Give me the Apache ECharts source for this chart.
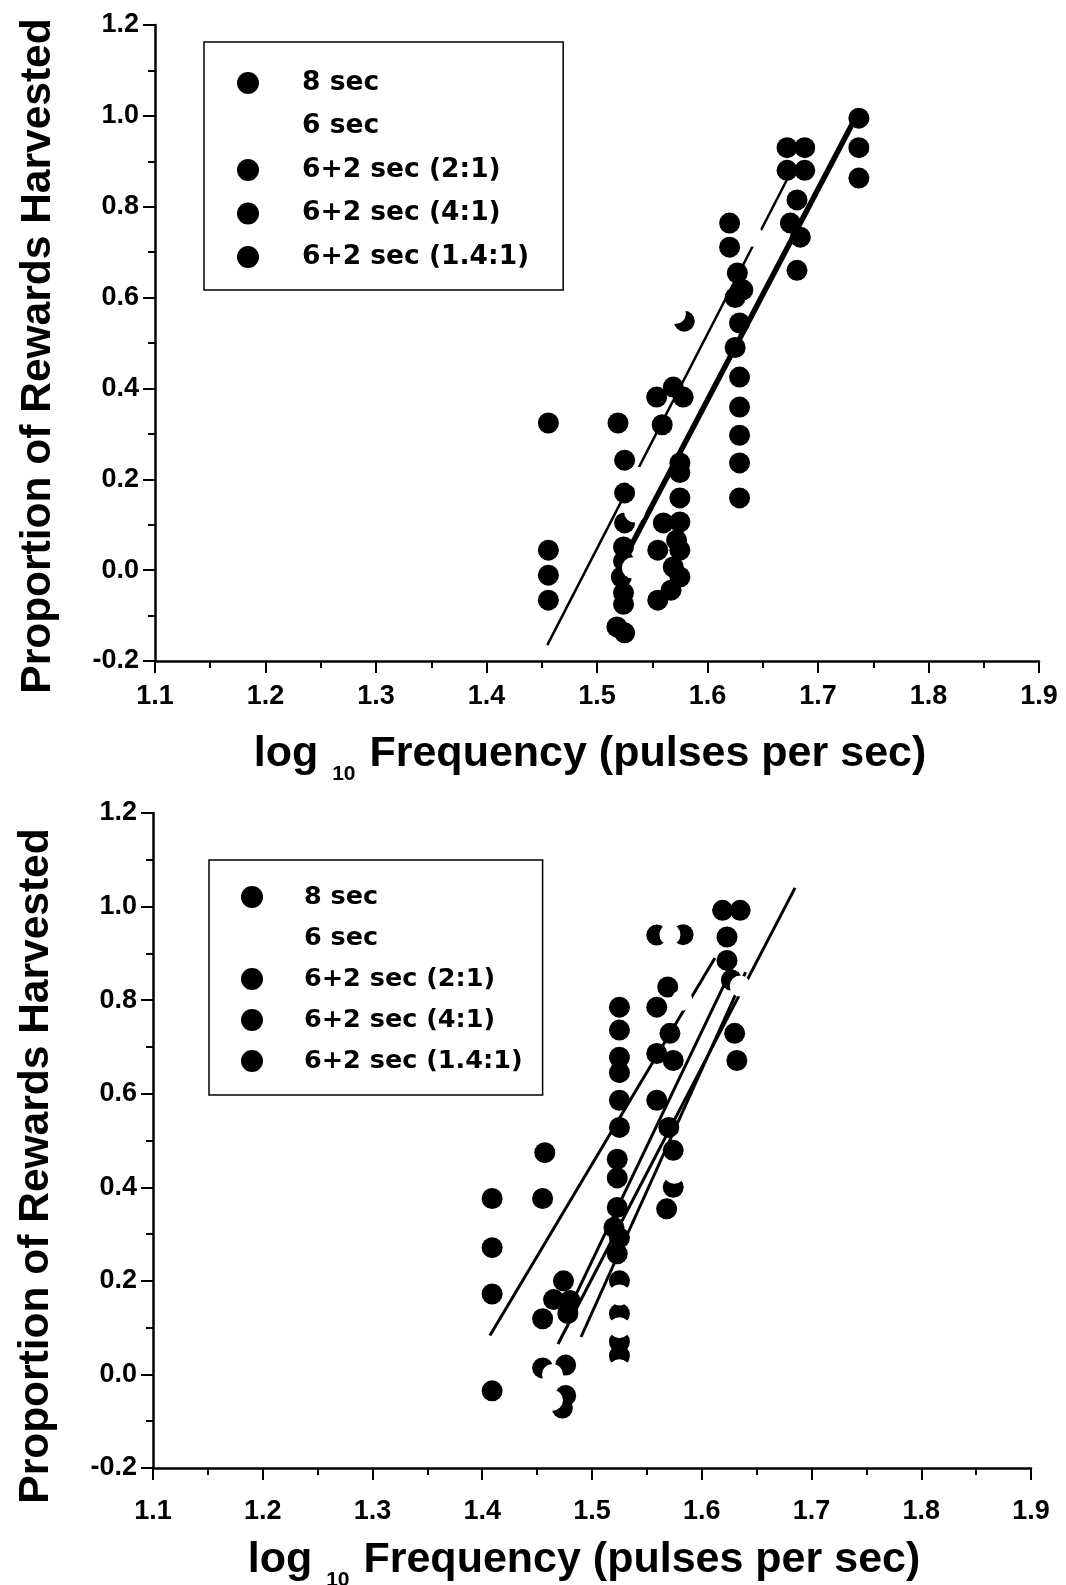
<!DOCTYPE html>
<html>
<head>
<meta charset="utf-8">
<script src="https://cdn.jsdelivr.net/npm/echarts@6/dist/echarts.min.js"></script>
<style>
html,body{margin:0;padding:0;background:#fff;}
#chart{width:1066px;height:1585px;}
</style>
</head>
<body>
<div id="chart"></div>
<script>
// ---------- data ----------
var seriesNames = ['8 sec', '6 sec', '6+2 sec (2:1)', '6+2 sec (4:1)', '6+2 sec (1.4:1)'];
var xTicks = [1.1, 1.2, 1.3, 1.4, 1.5, 1.6, 1.7, 1.8, 1.9];
var yTicks = [-0.2, 0.0, 0.2, 0.4, 0.6, 0.8, 1.0, 1.2];

// top panel
var top8sec = [[1.456,0.324],[1.456,0.044],[1.456,-0.011],[1.456,-0.066],[1.519,0.324],[1.518,-0.125],[1.525,-0.138],
  [1.629,0.425],[1.629,0.359],[1.629,0.297],[1.629,0.236],[1.629,0.159]];
var top6sec = [[1.536,0.205],[1.534,0.128],[1.571,0.565],[1.641,0.735],[1.595,0.10],[1.532,0.005]];
var top2to1 = [[1.525,0.242],[1.525,0.17],[1.525,0.104],[1.524,0.051],[1.524,0.02],[1.522,-0.015],[1.524,-0.05],[1.524,-0.075],
  [1.559,0.32],[1.569,0.403],[1.554,0.381],[1.578,0.381],[1.579,0.548]];
var top4to1 = [[1.575,0.236],[1.575,0.215],[1.575,0.159],[1.575,0.106],[1.56,0.104],[1.572,0.066],[1.555,0.044],[1.575,0.044],
  [1.569,0.007],[1.575,-0.015],[1.567,-0.044],[1.555,-0.066]];
var top14to1 = [[1.62,0.764],[1.62,0.711],[1.627,0.654],[1.632,0.617],[1.625,0.6],[1.629,0.544],[1.625,0.49],
  [1.672,0.93],[1.688,0.93],[1.672,0.88],[1.688,0.88],[1.681,0.815],[1.675,0.764],[1.684,0.733],[1.681,0.66],
  [1.737,0.995],[1.737,0.93],[1.737,0.863]];
var topFitThin = [[1.455,-0.165],[1.672,0.86]];
var topFitThick = [[1.53,0.05],[1.737,1.01]];

// bottom panel
var bot8sec = [[1.409,0.376],[1.409,0.271],[1.409,0.172],[1.409,-0.035],[1.457,0.474],[1.455,0.376],[1.455,0.119],[1.455,0.014]];
var bot6sec = [[1.571,0.94],[1.525,0.17],[1.525,0.10],[1.525,0.01],[1.464,0.0],[1.464,-0.055],[1.575,0.43],[1.582,0.80],[1.635,0.83]];
var bot2to1 = [[1.525,0.785],[1.525,0.736],[1.525,0.678],[1.525,0.645],[1.525,0.586],[1.525,0.528],[1.523,0.46],[1.523,0.42],
  [1.523,0.357],[1.52,0.314],[1.525,0.292],[1.523,0.258],[1.525,0.20],[1.525,0.13],[1.525,0.07],[1.525,0.04]];
var bot4to1 = [[1.559,0.939],[1.583,0.94],[1.569,0.828],[1.559,0.785],[1.571,0.729],[1.559,0.686],[1.574,0.671],[1.559,0.586],
  [1.57,0.528],[1.574,0.479],[1.574,0.40],[1.568,0.354],[1.474,0.2],[1.48,0.158],[1.478,0.13],[1.465,0.16],
  [1.476,0.02],[1.476,-0.045],[1.473,-0.072]];
var bot14to1 = [[1.619,0.992],[1.635,0.992],[1.623,0.935],[1.623,0.885],[1.627,0.843],[1.63,0.729],[1.632,0.671]];
var botFitA = [[1.407,0.083],[1.612,0.89]];
var botFitB = [[1.469,0.065],[1.685,1.04]];
var botFitC = [[1.475,0.12],[1.63,0.88]];
var botFitD = [[1.49,0.08],[1.64,0.86]];

// ---------- chart ----------
var chart = echarts.init(document.getElementById('chart'), null, {renderer:'canvas'});
var BLACK = '#000';
var tickFont = 'Liberation Sans';
var legendFont = 'DejaVu Sans';

function xAxisCfg(gi, margin){
  return {
    type:'value', gridIndex:gi, min:xTicks[0], max:xTicks[xTicks.length-1], interval:0.1,
    axisLine:{show:true, onZero:false, lineStyle:{color:BLACK, width:2.5}},
    axisTick:{show:true, inside:false, length:12, lineStyle:{color:BLACK, width:2}},
    minorTick:{show:true, splitNumber:2, length:7, lineStyle:{color:BLACK, width:2}},
    splitLine:{show:false},
    axisLabel:{margin:margin, color:BLACK, fontFamily:tickFont, fontWeight:'bold', fontSize:27,
      formatter:function(v){return Number(v).toFixed(1);}}
  };
}
function yAxisCfg(gi){
  return {
    type:'value', gridIndex:gi, min:yTicks[0], max:yTicks[yTicks.length-1], interval:0.2,
    axisLine:{show:true, onZero:false, lineStyle:{color:BLACK, width:2.5}},
    axisTick:{show:true, inside:false, length:12, lineStyle:{color:BLACK, width:2}},
    minorTick:{show:true, splitNumber:2, length:7, lineStyle:{color:BLACK, width:2}},
    splitLine:{show:false},
    axisLabel:{margin:16, color:BLACK, fontFamily:tickFont, fontWeight:'bold', fontSize:27,
      formatter:function(v){return Number(v).toFixed(1);}}
  };
}
function scat(name, data, gi, color, z){
  return {name:name, type:'scatter', xAxisIndex:gi, yAxisIndex:gi, data:data, symbol:'circle', symbolSize:21,
    itemStyle:{color:color, opacity:1}, z:z, silent:true, animation:false};
}
function fit(data, gi, w){
  return {type:'line', xAxisIndex:gi, yAxisIndex:gi, data:data, showSymbol:false, symbol:'none',
    lineStyle:{color:BLACK, width:w}, z:3, silent:true, animation:false};
}
function legendCfg(left, top, pad, gap, fs, textPadL){
  return {
    show:true, orient:'vertical', left:left, top:top, padding:pad, itemGap:gap,
    itemWidth:22, itemHeight:22, icon:'circle', selectedMode:false,
    borderColor:BLACK, borderWidth:1.5, backgroundColor:'#fff',
    data:seriesNames,
    textStyle:{color:BLACK, fontFamily:legendFont, fontWeight:'bold', fontSize:fs, lineHeight:30, padding:[0,0,0,textPadL]}
  };
}
function titleX(cx, cy){
  return {type:'text', x:cx, y:cy, silent:true,
    style:{text:'{m|log }{s|10}{m| Frequency (pulses per sec)}', align:'center', verticalAlign:'middle',
      fill:BLACK,
      rich:{
        m:{fontFamily:'Liberation Sans', fontWeight:'bold', fontSize:43, lineHeight:50, fill:BLACK},
        s:{fontFamily:'Liberation Sans', fontWeight:'bold', fontSize:21, lineHeight:8, padding:[40,2,0,2], fill:BLACK}
      }}};
}
function titleY(cx, cy){
  return {type:'text', x:cx, y:cy, rotation:Math.PI/2, silent:true,
    style:{text:'Proportion of Rewards Harvested', align:'center', verticalAlign:'middle',
      fontFamily:'Liberation Sans', fontWeight:'bold', fontSize:42.5, fill:BLACK}};
}

var option = {
  backgroundColor:'#fff',
  animation:false,
  grid:[
    {left:155, top:25, right:27, bottom:924, containLabel:false},
    {left:153, top:813, right:35, bottom:117, containLabel:false}
  ],
  xAxis:[xAxisCfg(0, 22), xAxisCfg(1, 30)],
  yAxis:[yAxisCfg(0), yAxisCfg(1)],
  legend:[
    legendCfg(204, 42, [26,34,18,33], 13.5, 26.5, 38),
    legendCfg(209, 860, [22,20,19,32], 11, 25.5, 36)
  ],
  graphic:[
    titleY(38, 356), titleX(590, 754),
    titleY(36, 1166), titleX(584, 1560)
  ],
  series:[
    scat(seriesNames[0], top8sec, 0, BLACK, 2),
    scat(seriesNames[1], top6sec, 0, '#fff', 4),
    scat(seriesNames[2], top2to1, 0, BLACK, 2),
    scat(seriesNames[3], top4to1, 0, BLACK, 2),
    scat(seriesNames[4], top14to1, 0, BLACK, 2),
    fit(topFitThin, 0, 2.5),
    fit(topFitThick, 0, 5.5),
    scat(seriesNames[0], bot8sec, 1, BLACK, 2),
    scat(seriesNames[1], bot6sec, 1, '#fff', 4),
    scat(seriesNames[2], bot2to1, 1, BLACK, 2),
    scat(seriesNames[3], bot4to1, 1, BLACK, 2),
    scat(seriesNames[4], bot14to1, 1, BLACK, 2),
    fit(botFitA, 1, 3),
    fit(botFitB, 1, 3),
    fit(botFitC, 1, 3),
    fit(botFitD, 1, 3)
  ]
};
chart.setOption(option);
</script>
</body>
</html>
